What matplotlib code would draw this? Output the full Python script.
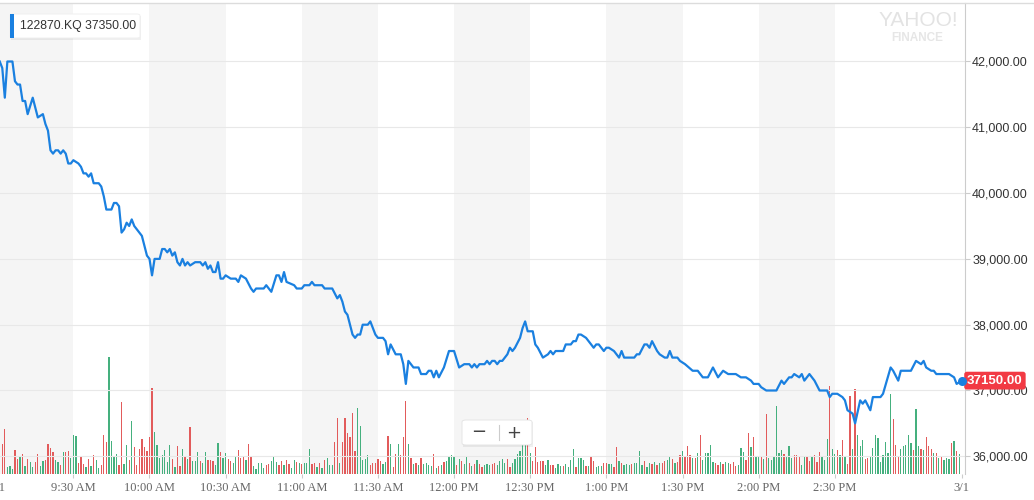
import matplotlib
matplotlib.use('Agg')
import matplotlib.pyplot as plt
from matplotlib.patches import FancyBboxPatch, Rectangle
from matplotlib.lines import Line2D
from matplotlib.transforms import blended_transform_factory

# intraday price of 122870.KQ, minutes after 9:00 -> price (KRW)
TIMES = [1, 2, 3, 4, 5, 6, 7, 8, 9, 10, 11, 12, 14, 16, 18, 19, 20, 21, 22, 23,
         24, 25, 26, 27, 28, 29, 30, 32, 33, 34, 35, 36, 37, 38, 40, 41, 42, 43, 45, 46,
         47, 48, 49, 50, 51, 52, 53, 54, 55, 57, 58, 59, 60, 61, 62, 64, 65, 66, 67, 68,
         69, 70, 71, 72, 73, 74, 75, 76, 78, 80, 81, 82, 83, 84, 85, 86, 87, 88, 89, 90,
         92, 94, 95, 96, 98, 100, 101, 102, 105, 106, 108, 110, 111, 112, 113, 114, 117, 118, 120, 121,
         123, 124, 125, 128, 129, 132, 134, 135, 136, 137, 138, 140, 141, 142, 143, 144, 146, 147, 148, 149,
         150, 152, 153, 154, 155, 157, 159, 160, 161, 162, 164, 166, 167, 169, 170, 171, 172, 173, 174, 176,
         178, 180, 182, 184, 186, 187, 188, 189, 190, 192, 193, 194, 195, 196, 197, 198, 199, 201, 202, 203,
         204, 206, 207, 208, 209, 211, 212, 213, 215, 217, 218, 219, 220, 223, 224, 226, 227, 228, 229, 230,
         232, 233, 235, 236, 237, 239, 240, 241, 243, 245, 246, 247, 251, 252, 253, 255, 256, 257, 258, 260,
         261, 263, 264, 265, 266, 268, 269, 271, 274, 276, 278, 280, 282, 284, 286, 288, 290, 291, 293, 295,
         297, 298, 300, 301, 303, 307, 309, 310, 312, 313, 314, 316, 317, 318, 320, 322, 324, 327, 328, 329,
         331, 333, 334, 335, 337, 338, 340, 341, 342, 344, 345, 348, 349, 352, 353, 355, 356, 358, 360, 362,
         364, 365, 366, 368, 369, 370, 375, 377, 378, 380]
PRICES = [42000, 41900, 41450, 42000, 42000, 42000, 41700, 41650, 41650, 41400, 41400, 41200, 41450, 41150, 41200, 41050, 40950, 40650, 40600, 40650,
          40650, 40600, 40650, 40600, 40450, 40450, 40500, 40450, 40400, 40300, 40300, 40250, 40300, 40150, 40150, 40100, 39950, 39750, 39750, 39850,
          39850, 39800, 39400, 39450, 39550, 39500, 39600, 39500, 39450, 39350, 39200, 39050, 39000, 38750, 39000, 39000, 39150, 39150, 39100, 39150,
          39050, 39100, 38950, 38900, 39000, 38900, 38950, 38900, 38950, 38950, 38900, 38950, 38850, 38900, 38800, 38800, 38950, 38700, 38700, 38750,
          38700, 38700, 38650, 38750, 38700, 38550, 38500, 38550, 38550, 38600, 38500, 38750, 38750, 38650, 38800, 38650, 38600, 38550, 38550, 38600,
          38600, 38650, 38600, 38600, 38550, 38550, 38400, 38450, 38350, 38200, 38150, 37850, 37800, 37850, 37850, 38000, 38000, 38050, 37950, 37850,
          37800, 37800, 37750, 37550, 37700, 37550, 37550, 37400, 37100, 37450, 37350, 37350, 37250, 37250, 37300, 37300, 37200, 37300, 37200, 37350,
          37600, 37600, 37350, 37400, 37400, 37350, 37400, 37350, 37400, 37400, 37450, 37400, 37450, 37450, 37400, 37450, 37450, 37550, 37650, 37600,
          37650, 37800, 37950, 38050, 37900, 37900, 37700, 37650, 37500, 37550, 37600, 37550, 37600, 37600, 37700, 37700, 37750, 37750, 37850, 37850,
          37800, 37750, 37650, 37700, 37700, 37600, 37650, 37650, 37600, 37500, 37600, 37500, 37500, 37550, 37550, 37700, 37700, 37650, 37750, 37600,
          37550, 37500, 37500, 37600, 37500, 37500, 37450, 37400, 37300, 37300, 37200, 37200, 37350, 37200, 37300, 37250, 37250, 37250, 37200, 37200,
          37150, 37100, 37100, 37050, 37000, 37000, 37150, 37100, 37200, 37200, 37250, 37200, 37250, 37150, 37250, 37150, 37000, 37000, 36900, 36950,
          36950, 36900, 36850, 36700, 36650, 36500, 36850, 36800, 36850, 36700, 36900, 36900, 36950, 37350, 37300, 37150, 37300, 37300, 37300, 37450,
          37400, 37450, 37350, 37300, 37300, 37250, 37250, 37200, 37100, 37150]

# one volume bar per minute from 9:02 to 15:19 (relative size), r = down, g = up
VOL_START = 2
VOLUME = [
    # 9:02 - 10:37
    30, 45, 7, 8, 5, 24, 15, 18, 20, 8, 15, 12, 7, 12, 20, 8, 13, 14, 30, 26,
    22, 14, 12, 9, 22, 22, 23, 16, 39, 38, 11, 18, 10, 7, 15, 8, 19, 14, 6, 9,
    39, 32, 117, 33, 17, 20, 9, 72, 10, 29, 14, 53, 27, 9, 25, 35, 27, 23, 37, 86,
    42, 29, 16, 19, 24, 12, 29, 15, 7, 28, 8, 25, 17, 15, 47, 13, 13, 22, 13, 11,
    22, 14, 14, 13, 9, 31, 22, 16, 21, 15, 13, 11, 18, 24, 16, 18,
    # 10:38 - 12:12
    14, 30, 17, 8, 5, 11, 11, 6, 9, 10, 13, 17, 12, 9, 13, 9, 14, 10, 6, 14,
    12, 11, 10, 11, 11, 25, 10, 11, 7, 11, 6, 14, 16, 9, 9, 32, 56, 11, 32, 56,
    41, 37, 61, 23, 66, 48, 14, 15, 19, 9, 11, 11, 15, 13, 10, 12, 38, 30, 7, 20,
    30, 19, 37, 73, 30, 16, 10, 11, 9, 16, 10, 11, 9, 8, 20, 6, 8, 9, 12, 13,
    17, 19, 18, 9, 15, 13, 10, 17, 11, 8, 10, 14, 10, 7, 9,
    # 12:13 - 13:46
    10, 9, 10, 11, 9, 13, 15, 11, 15, 7, 11, 15, 20, 23, 29, 29, 56, 21, 13, 27,
    12, 13, 13, 9, 14, 9, 9, 6, 10, 8, 8, 10, 7, 14, 25, 7, 16, 16, 14, 8,
    8, 18, 13, 7, 8, 8, 11, 11, 10, 10, 7, 27, 13, 11, 9, 10, 9, 10, 11, 11,
    23, 9, 13, 7, 11, 10, 12, 9, 11, 11, 13, 14, 18, 15, 11, 12, 19, 23, 17, 28,
    19, 16, 16, 21, 39, 14, 21, 21, 29, 12, 11, 9, 12, 10,
    # 13:47 - 15:19
    12, 11, 10, 12, 8, 9, 26, 22, 14, 41, 27, 37, 17, 18, 18, 15, 60, 16, 14, 17,
    68, 21, 24, 20, 18, 28, 16, 19, 19, 17, 9, 18, 17, 13, 17, 19, 12, 22, 17, 14,
    35, 88, 25, 20, 24, 19, 34, 18, 10, 78, 25, 85, 39, 28, 34, 15, 16, 18, 26, 39,
    36, 12, 19, 32, 21, 80, 55, 29, 18, 25, 28, 29, 39, 31, 24, 65, 28, 25, 24, 37,
    28, 25, 21, 21, 16, 17, 14, 16, 15, 31, 33, 23, 20,
]
VOL_DIR = ("rrgggrrgrgrggrrggrrrrggrgrrgggrrrgrgrggrrrggggrrggrgrrrrrrrrgggggggrgr"
           "rgrgrgggrggrrrggrggrrggrrr"
           "grrgggggrrgggrrgrrggrgrgggrrgrgrgggrrgrrrrrrgggggrrrrrggrgrrgrrrgrgrgr"
           "ggggrgrgrggggrgrggrgrgrrg"
           "ggrrggggrrggggggrgrrrrrggrrgggrggggrgggrgrrgggrrggrrgrgggrggggrggrgrgr"
           "rggrgrrgrrrgrgrgggggrrgr"
           "ggrrrgggrrgrggrgrggggggrgggrrrggrrgrrrgggrggrgrgrrgrgggrrggg"
           "ggggggrrrgggggrggrgrrrgrgrgggrgrg")

SYMBOL = '122870.KQ'
LEGEND_PRICE = 37350.00
LAST_PRICE = 37150.00
Y_TICKS = [36000, 37000, 38000, 39000, 40000, 41000, 42000]
X_TICKS = [0, 30, 60, 90, 120, 150, 180, 210, 240, 270, 300, 330, 380]
X_LABELS = ['3/1', '9:30 AM', '10:00 AM', '10:30 AM', '11:00 AM', '11:30 AM', '12:00 PM',
            '12:30 PM', '1:00 PM', '1:30 PM', '2:00 PM', '2:30 PM', '3/1']
SHADED = [(0, 30), (60, 90), (120, 150), (180, 210), (240, 270), (300, 330)]

LINE_BLUE = '#1a80e0'
RED = '#e25b5b'
GREEN = '#45b07e'

plt.rcParams['font.family'] = ['Liberation Sans', 'DejaVu Sans']

W, H = 1034, 500


def fx(px):
    return px / W


def fy(py):
    return 1 - py / H


fig = plt.figure(figsize=(W / 100, H / 100), dpi=100)
fig.patch.set_facecolor('white')

# bottom layer: shaded half hours + volume bars
vol = fig.add_axes([fx(-2.8), 26 / H, 967.8 / W, 471 / H])
ax = vol.twinx()

for s, e in SHADED:
    vol.axvspan(s, e, color='#f5f5f5', lw=0, zorder=0)
bar_x = list(range(VOL_START, VOL_START + len(VOLUME)))
bar_c = [RED if c == 'r' else GREEN for c in VOL_DIR]
vol.bar(bar_x, VOLUME, width=0.5, color=bar_c, lw=0, zorder=2)
vol.set_ylim(0, 471)
vol.set_yticks([])
vol.set_xlim(0, 381.3)
vol.set_xticks(X_TICKS)
vol.set_xticklabels(X_LABELS, fontfamily='Liberation Serif', fontsize=9, color='#666666')
vol.tick_params(axis='x', length=3, width=0.8, color='#cccccc', pad=3)
for sp in vol.spines.values():
    sp.set_visible(False)

# top layer: price line
ax.set_ylim(35731, 42889)
ax.set_yticks(Y_TICKS)
ax.set_yticklabels(['{:,.2f}'.format(v) for v in Y_TICKS])
ax.tick_params(axis='y', right=True, length=3.6, width=0.8, color='#cccccc',
               labelsize=9, labelcolor='#333333', pad=1.5)
ax.grid(axis='y', color='#e8e8e8', lw=0.8, zorder=1)
ax.set_axisbelow(True)
for name, sp in ax.spines.items():
    sp.set_visible(name == 'right')
ax.spines['right'].set_color('#cccccc')
ax.spines['right'].set_linewidth(0.8)

ax.plot(TIMES, PRICES, color=LINE_BLUE, lw=1.6, zorder=3, solid_joinstyle='round')
ax.plot(TIMES[-1], PRICES[-1], 'o', color=LINE_BLUE, ms=6.5, mec='none', clip_on=False, zorder=7)

# last price tag on the axis
tr = blended_transform_factory(ax.transAxes, ax.transData)
ax.text(1.0022, LAST_PRICE, '{:.2f}'.format(LAST_PRICE), transform=tr, ha='left', va='center',
        color='white', fontsize=9.5, fontweight='bold', zorder=6, clip_on=False,
        bbox=dict(boxstyle='round,pad=0.22,rounding_size=0.2', fc='#f23a44', ec='none'))

# top border
fig.add_artist(Line2D([0, 1], [fy(3.3), fy(3.3)], transform=fig.transFigure, color='#dcdcdc', lw=1))

# watermark
fig.text(fx(918), fy(20.5), 'YAHOO!', ha='center', va='center', fontsize=15, color='#e3e3e3')
fig.text(fx(917), fy(38), 'FINANCE', ha='center', va='center', fontsize=8.5, fontweight='bold', color='#e6e6e6')

# legend chip
fig.add_artist(Rectangle((fx(11), fy(40)), 130 / W, 24 / H, transform=fig.transFigure,
                         fc='black', alpha=0.06, lw=0))
fig.add_artist(FancyBboxPatch((fx(10), fy(38)), 130 / W, 24 / H, transform=fig.transFigure,
                              boxstyle='round,pad=0,rounding_size=0.003', fc='white', ec='#eeeeee', lw=0.6))
fig.add_artist(Rectangle((fx(10), fy(38)), 4 / W, 24 / H, transform=fig.transFigure,
                         fc=LINE_BLUE, lw=0))
fig.text(fx(20), fy(26), '{} {:.2f}'.format(SYMBOL, LEGEND_PRICE), ha='left', va='center',
         fontsize=8.8, color='#333333')

# zoom control
fig.add_artist(Rectangle((fx(463), fy(447)), 70 / W, 25 / H, transform=fig.transFigure,
                         fc='black', alpha=0.06, lw=0))
fig.add_artist(FancyBboxPatch((fx(462), fy(445)), 70 / W, 25 / H, transform=fig.transFigure,
                              boxstyle='round,pad=0,rounding_size=0.004', fc='white', ec='#e2e2e2', lw=0.6))
fig.add_artist(Line2D([fx(499), fx(499)], [fy(425), fy(440)], transform=fig.transFigure,
                      color='#cccccc', lw=0.8))
fig.text(fx(479), fy(432.5), '\u2212', ha='center', va='center', fontsize=13,
         color='#444444', family='DejaVu Sans')
fig.text(fx(514), fy(432.5), '+', ha='center', va='center', fontsize=13,
         color='#444444', family='DejaVu Sans')

fig.savefig('out.png', dpi=100)
